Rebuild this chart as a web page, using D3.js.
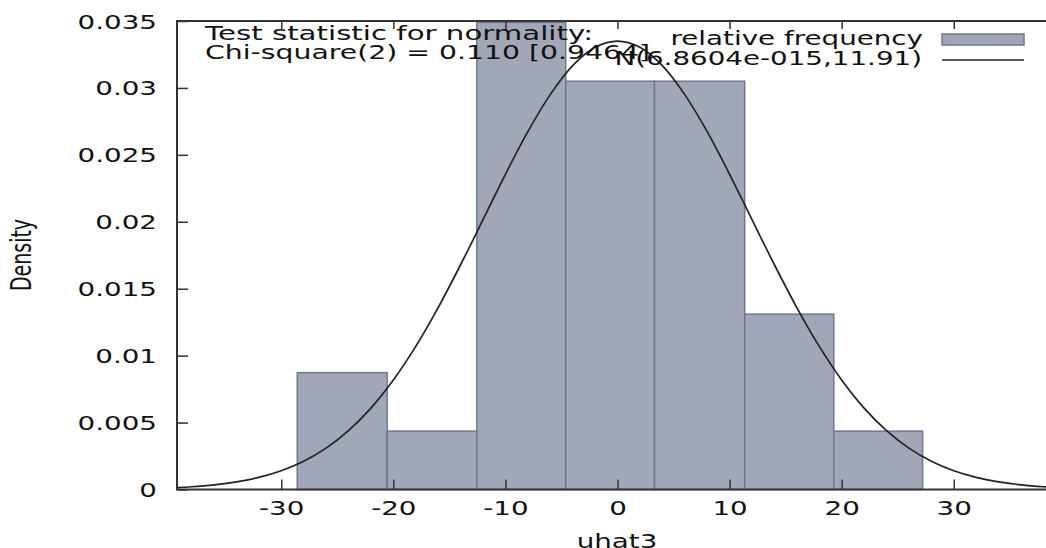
<!DOCTYPE html>
<html>
<head>
<meta charset="utf-8">
<script src="https://cdn.jsdelivr.net/npm/d3@7"></script>
<style>
  body { margin: 0; background: #fff; }
  text { font-family: "DejaVu Sans", Verdana, sans-serif; fill: #111; }
</style>
</head>
<body>
<div class="chart"></div>
<script>
// histogram of uhat3 (bin edges and densities)
var binEdges = [-28.57, -20.55, -12.55, -4.62, 3.3, 11.35, 19.3, 27.22];
var densities = [0.00873, 0.00436, 0.0349, 0.0305, 0.0305, 0.0131, 0.00436];

// the N(6.8604e-015,11.91) curve, read as points
var curveX = [-40, -38, -36, -34, -32, -30, -28, -26, -24, -22, -20, -18, -16, -14, -12, -10, -8, -6, -4, -2,
              0, 2, 4, 6, 8, 10, 12, 14, 16, 18, 20, 22, 24, 26, 28, 30, 32, 34, 36, 38, 40];
var curveY = [0.000119, 0.000206, 0.000348, 0.000569, 0.000907, 0.00140, 0.00211, 0.00309, 0.00440, 0.00608,
              0.00818, 0.01069, 0.01359, 0.01679, 0.02016, 0.02355, 0.02673, 0.02950, 0.03166, 0.03303,
              0.03350,
              0.03303, 0.03166, 0.02950, 0.02673, 0.02355, 0.02016, 0.01679, 0.01359, 0.01069, 0.00818,
              0.00608, 0.00440, 0.00309, 0.00211, 0.00140, 0.000907, 0.000569, 0.000348, 0.000206, 0.000119];

var xTicks = [-30, -20, -10, 0, 10, 20, 30];
var yTicks = [0, 0.005, 0.01, 0.015, 0.02, 0.025, 0.03, 0.035];

var statLines = ["Test statistic for normality:", "Chi-square(2) = 0.110 [0.9464]"];
var legendLabels = ["relative frequency", "N(6.8604e-015,11.91)"];

//Width and height
var w = 1046;
var h = 548;
var sx = 1.46; // the picture is stretched sideways
var plotLeft = 177, plotRight = 1058, plotTop = 21, plotBottom = 489.5;

var x = d3.scaleLinear().domain([-39.3, 39.3]).range([plotLeft, plotRight]);
var y = d3.scaleLinear().domain([0, 0.035]).range([plotBottom, plotTop]);

var svg = d3.select(".chart")
            .append("svg")
            .attr("width", w)
            .attr("height", h);

svg.append("clipPath").attr("id", "plot")
   .append("rect")
   .attr("x", plotLeft).attr("y", plotTop)
   .attr("width", plotRight - plotLeft).attr("height", plotBottom - plotTop);

// bars
svg.selectAll("rect.bar")
    .data(densities)
    .enter()
    .append("rect")
    .attr("class", "bar")
    .attr("x", function(d, i) { return x(binEdges[i]); })
    .attr("y", function(d) { return y(d); })
    .attr("width", function(d, i) { return x(binEdges[i + 1]) - x(binEdges[i]); })
    .attr("height", function(d) { return plotBottom - y(d); })
    .attr("fill", "#a1a7b7")
    .attr("stroke", "#6f778d")
    .attr("stroke-width", 1.5);

// normal curve
var line = d3.line()
    .x(function(d, i) { return x(curveX[i]); })
    .y(function(d) { return y(d); })
    .curve(d3.curveCatmullRom);

svg.append("path")
    .datum(curveY)
    .attr("clip-path", "url(#plot)")
    .attr("d", line)
    .attr("fill", "none")
    .attr("stroke", "#222")
    .attr("stroke-width", 1.7);

// axes
function styleAxis(g) {
  g.select(".domain").remove();
  g.selectAll("line").attr("stroke", "#333").attr("stroke-width", 1.5);
}

var xAxis = svg.append("g")
    .attr("transform", "translate(0," + plotBottom + ")")
    .call(d3.axisBottom(x).tickValues(xTicks).tickSize(-10).tickPadding(12).tickFormat(d3.format("d")));
styleAxis(xAxis);
xAxis.selectAll("text")
    .attr("font-size", 19)
    .attr("fill", "#111")
    .attr("font-family", "DejaVu Sans")
    .attr("transform", "scale(" + sx + ",1)");
xAxis.selectAll(".tick text").text(function(d) { return d < 0 ? "-" + Math.abs(d) : d; });

var xTop = svg.append("g")
    .attr("transform", "translate(0," + plotTop + ")")
    .call(d3.axisTop(x).tickValues(xTicks).tickSize(-8).tickFormat(""));
styleAxis(xTop);

var yAxis = svg.append("g")
    .attr("transform", "translate(" + plotLeft + ",0)")
    .call(d3.axisLeft(y).tickValues(yTicks).tickSize(-11).tickPadding(20).tickFormat(function(d) { return String(+d.toFixed(3)); }));
styleAxis(yAxis);
yAxis.selectAll("text")
    .attr("font-size", 19)
    .attr("fill", "#111")
    .attr("font-family", "DejaVu Sans")
    .attr("x", -20 / sx)
    .attr("dy", "0.37em")
    .attr("transform", "scale(" + sx + ",1)");

var yRight = svg.append("g")
    .attr("transform", "translate(" + plotRight + ",0)")
    .call(d3.axisRight(y).tickValues(yTicks).tickSize(-11).tickFormat(""));
styleAxis(yRight);

// frame
svg.append("rect")
    .attr("x", plotLeft).attr("y", plotTop)
    .attr("width", plotRight - plotLeft).attr("height", plotBottom - plotTop)
    .attr("fill", "none")
    .attr("stroke", "#333")
    .attr("stroke-width", 2);

// helper for stretched text
function label(tx, ty, str, anchor, size, len) {
  var t = svg.append("text")
    .attr("transform", "translate(" + tx + "," + ty + ") scale(" + sx + ",1)")
    .attr("text-anchor", anchor)
    .attr("font-size", size)
    .text(str);
  if (len) t.attr("textLength", len / sx).attr("lengthAdjust", "spacingAndGlyphs");
  return t;
}

// test statistic
label(205, 40, statLines[0], "start", 19, 388);
label(205, 59, statLines[1], "start", 19, 445);

// legend
label(923, 45, legendLabels[0], "end", 19);
label(922, 65, legendLabels[1], "end", 19);
svg.append("rect")
    .attr("x", 942).attr("y", 34)
    .attr("width", 82).attr("height", 11)
    .attr("fill", "#a1a7b7")
    .attr("stroke", "#6f778d")
    .attr("stroke-width", 1.5);
svg.append("line")
    .attr("x1", 942).attr("x2", 1024)
    .attr("y1", 60).attr("y2", 60)
    .attr("stroke", "#222")
    .attr("stroke-width", 1.5);

// axis titles
label(617, 548, "uhat3", "middle", 19);
svg.append("text")
    .attr("transform", "translate(31,255) rotate(-90) scale(1," + sx + ")")
    .attr("text-anchor", "middle")
    .attr("font-size", 19)
    .text("Density");
</script>
</body>
</html>
